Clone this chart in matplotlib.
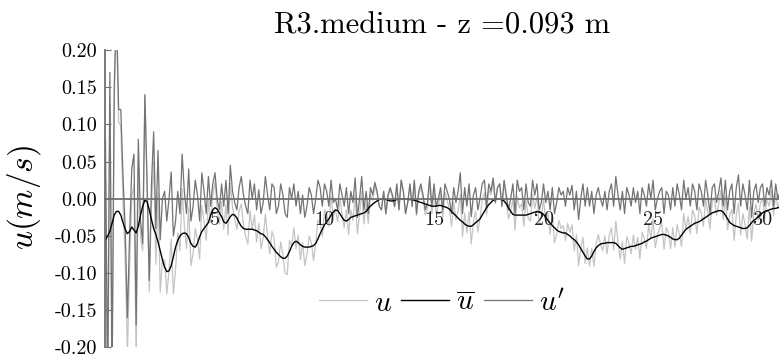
import matplotlib
matplotlib.use("Agg")
import matplotlib.pyplot as plt
import numpy as np

plt.rcParams['font.family'] = 'serif'
plt.rcParams['font.serif'] = ['cmr10', 'DejaVu Serif']
plt.rcParams['mathtext.fontset'] = 'cm'
plt.rcParams['axes.formatter.use_mathtext'] = True

title = "R3.medium - z =0.093 m"
dt = 0.1  # s, sampling step of the series below

# running mean u_bar, one value every 0.1 s (one row = 1 s)
u_mean = [
    -0.055, -0.050, -0.044, -0.033, -0.022, -0.017, -0.017, -0.022, -0.032, -0.041,
    -0.047, -0.044, -0.038, -0.042, -0.046, -0.037, -0.022, -0.010, -0.002, -0.004,
    -0.015, -0.028, -0.040, -0.048, -0.058, -0.070, -0.082, -0.092, -0.098, -0.097,
    -0.090, -0.078, -0.065, -0.056, -0.050, -0.047, -0.046, -0.047, -0.052, -0.060,
    -0.064, -0.065, -0.060, -0.051, -0.044, -0.040, -0.036, -0.032, -0.022, -0.015,
    -0.012, -0.014, -0.019, -0.024, -0.031, -0.033, -0.029, -0.024, -0.021, -0.022,
    -0.026, -0.032, -0.037, -0.040, -0.041, -0.041, -0.041, -0.041, -0.042, -0.043,
    -0.045, -0.047, -0.048, -0.051, -0.055, -0.059, -0.064, -0.068, -0.072, -0.075,
    -0.078, -0.080, -0.080, -0.077, -0.071, -0.064, -0.059, -0.057, -0.059, -0.062,
    -0.064, -0.065, -0.065, -0.065, -0.064, -0.063, -0.060, -0.054, -0.047, -0.041,
    -0.035, -0.031, -0.027, -0.022, -0.018, -0.015, -0.016, -0.020, -0.025, -0.029,
    -0.030, -0.028, -0.025, -0.024, -0.023, -0.022, -0.021, -0.020, -0.019, -0.017,
    -0.013, -0.010, -0.007, -0.005, -0.003, -0.001, 0.000, 0.000, -0.001, -0.002,
    -0.003, -0.003, -0.002, -0.001, 0.000, 0.000, 0.000, 0.000, -0.001, -0.001,
    -0.001, -0.002, -0.003, -0.004, -0.005, -0.006, -0.007, -0.008, -0.009, -0.010,
    -0.010, -0.010, -0.009, -0.009, -0.010, -0.011, -0.012, -0.014, -0.017, -0.020,
    -0.023, -0.026, -0.029, -0.031, -0.034, -0.036, -0.037, -0.037, -0.035, -0.032,
    -0.030, -0.027, -0.022, -0.017, -0.012, -0.008, -0.005, -0.002, -0.001, 0.000,
    0.000, -0.001, -0.003, -0.007, -0.012, -0.017, -0.021, -0.022, -0.022, -0.022,
    -0.022, -0.022, -0.022, -0.021, -0.020, -0.019, -0.018, -0.017, -0.018, -0.019,
    -0.021, -0.025, -0.029, -0.033, -0.036, -0.039, -0.042, -0.044, -0.045, -0.046,
    -0.046, -0.048, -0.050, -0.053, -0.055, -0.058, -0.062, -0.067, -0.072, -0.077,
    -0.081, -0.081, -0.077, -0.071, -0.066, -0.063, -0.061, -0.060, -0.060, -0.059,
    -0.059, -0.059, -0.059, -0.060, -0.063, -0.066, -0.068, -0.067, -0.066, -0.065,
    -0.064, -0.064, -0.063, -0.062, -0.061, -0.060, -0.058, -0.057, -0.055, -0.053,
    -0.052, -0.051, -0.050, -0.049, -0.048, -0.048, -0.049, -0.050, -0.052, -0.054,
    -0.055, -0.055, -0.053, -0.049, -0.045, -0.041, -0.039, -0.037, -0.035, -0.033,
    -0.032, -0.031, -0.029, -0.027, -0.025, -0.023, -0.021, -0.019, -0.018, -0.017,
    -0.016, -0.016, -0.018, -0.022, -0.027, -0.032, -0.034, -0.036, -0.037, -0.038,
    -0.039, -0.040, -0.040, -0.039, -0.036, -0.032, -0.029, -0.027, -0.024, -0.021,
    -0.019, -0.017, -0.016, -0.015, -0.014, -0.013, -0.013, -0.012, -0.012,
]

# fluctuation u', same 0.1 s step
u_fluct = [
    0.08, -0.26, 0.17, -0.24, 0.15, 0.26, 0.12, 0.12, 0.03, -0.04,
    -0.16, -0.05, 0.04, 0.06, -0.17, 0.08, -0.03, -0.06, 0.14, 0.02,
    -0.11, 0.02, 0.09, -0.04, 0.065, -0.055, 0.0, 0.01, -0.03, 0.0,
    0.036, -0.05, -0.03, 0.01, -0.02, 0.06, 0.01, -0.02, 0.04, -0.03,
    -0.01, 0.025, 0.005, -0.03, 0.035, 0.01, -0.02, 0.03, -0.01, 0.02,
    0.035, 0.0, -0.015, 0.02, -0.01, 0.025, -0.02, 0.045, 0.01, -0.005,
    -0.015, 0.015, 0.03, 0.005, -0.01, -0.02, 0.025, 0.0, 0.02, -0.015,
    0.012, -0.02, -0.005, 0.03, 0.005, -0.015, 0.02, 0.015, -0.02, -0.01,
    0.02, 0.005, -0.02, -0.025, 0.015, 0.0, 0.02, -0.01, 0.01, -0.02,
    0.005, -0.025, -0.01, 0.015, 0.005, -0.02, 0.0, 0.025, 0.015, -0.01,
    0.02, 0.01, -0.01, 0.025, -0.005, 0.0, -0.015, 0.02, 0.005, -0.01,
    0.015, -0.02, 0.01, -0.005, 0.028, -0.025, 0.0, 0.03, -0.015, 0.01,
    -0.02, 0.015, 0.005, 0.022, 0.01, -0.01, -0.015, 0.01, -0.02, 0.005,
    0.015, 0.005, -0.01, 0.02, -0.015, 0.025, 0.01, -0.02, -0.005, 0.02,
    -0.01, 0.025, -0.02, 0.01, 0.02, 0.005, -0.015, -0.005, 0.03, -0.01,
    0.02, -0.01, 0.0, 0.015, -0.015, 0.02, 0.01, 0.0, -0.02, 0.015,
    -0.005, 0.01, 0.035, -0.02, 0.015, -0.01, 0.02, -0.024, 0.005, 0.015,
    -0.015, 0.0, 0.02, 0.025, -0.01, 0.02, 0.01, 0.028, -0.005, 0.015,
    0.02, -0.01, 0.025, 0.005, -0.015, 0.0, 0.02, -0.02, 0.025, 0.01,
    0.015, -0.015, 0.02, -0.005, -0.01, 0.025, 0.005, 0.02, -0.015, -0.005,
    0.02, -0.005, 0.01, -0.015, 0.015, -0.02, -0.005, 0.015, 0.005, 0.01,
    -0.01, 0.015, 0.005, 0.018, -0.015, 0.01, -0.028, 0.0, 0.02, -0.01,
    0.015, -0.01, 0.01, -0.02, 0.005, 0.015, 0.0, -0.01, 0.01, -0.015,
    0.01, 0.02, -0.01, 0.03, 0.005, -0.015, 0.01, -0.02, 0.015, 0.005,
    -0.01, 0.015, -0.005, 0.01, -0.02, 0.015, 0.005, -0.01, 0.02, 0.0,
    0.025, -0.015, 0.0, 0.01, 0.015, -0.02, 0.01, 0.005, -0.015, 0.015,
    -0.01, 0.02, 0.005, -0.015, 0.025, 0.0, 0.015, -0.01, 0.02, 0.01,
    -0.015, 0.02, 0.01, -0.01, 0.025, 0.005, -0.02, 0.015, 0.02, -0.005,
    0.01, 0.028, -0.01, 0.025, -0.015, 0.01, 0.02, -0.02, 0.015, 0.032,
    -0.01, 0.02, 0.005, -0.015, 0.025, -0.025, 0.01, 0.02, -0.005, 0.015,
    0.02, -0.01, 0.015, 0.005, 0.025, -0.01, 0.02, 0.0, 0.01,
]

yticks = [0.20, 0.15, 0.10, 0.05, 0.00, -0.05, -0.10, -0.15, -0.20]
xticks = [5, 10, 15, 20, 25, 30]

u_mean = np.array(u_mean)
u_fluct = np.array(u_fluct)
u = u_mean + u_fluct          # u = u_bar + u'
t = np.arange(len(u_mean)) * dt

fig = plt.figure(figsize=(7.79, 3.63), dpi=100)
ax = fig.add_axes([0.1354, 0.0427, 0.8646, 0.8196])

ax.plot(t, u, color='#c4c4c4', lw=0.9, label='$u$', zorder=1)
ax.plot(t, u_fluct, color='#737373', lw=0.9, label="$u'$", zorder=1.5)
ax.plot(t, u_mean, color='black', lw=1.0, label=r'$\overline{u}$', zorder=2)

ax.set_xlim(0, 30.75)
ax.set_ylim(-0.2, 0.2)

for s in ['top', 'right']:
    ax.spines[s].set_visible(False)
ax.spines['bottom'].set_position(('data', 0))
for s in ['left', 'bottom']:
    ax.spines[s].set_color('#707070')
    ax.spines[s].set_linewidth(1.3)

ax.set_yticks(yticks)
ax.set_yticklabels(['%.2f' % v if v != 0 else '0.00' for v in yticks])
ax.set_xticks(xticks)
ax.set_xticklabels([str(v) for v in xticks])
ax.tick_params(axis='y', direction='in', length=4, color='#707070', pad=6,
               labelsize=14.5)
ax.tick_params(axis='x', length=0, pad=9, labelsize=14.5, colors='#222222')

ax.set_title(title, fontsize=22, pad=12)
fig.text(24 / 779, 1 - 197 / 363, '$u(m/s)$', rotation=90, ha='center',
         va='center', fontsize=24)

h, l = ax.get_legend_handles_labels()
order = [0, 2, 1]
fig.legend([h[i] for i in order], [l[i] for i in order], loc='center',
           bbox_to_anchor=(0.567, 0.165), ncol=3, frameon=False, fontsize=21,
           handlelength=1.65, handletextpad=0.25, columnspacing=0.3)

fig.savefig('out.png', dpi=100)
